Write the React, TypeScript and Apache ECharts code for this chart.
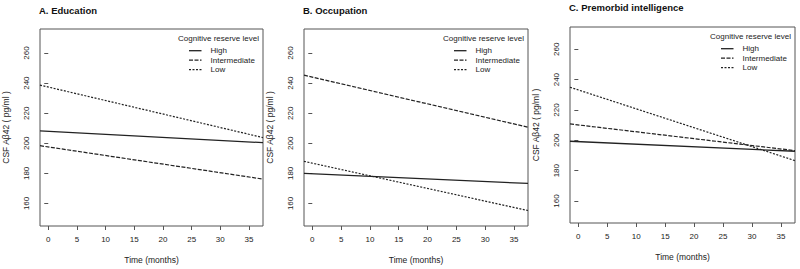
import React, { useEffect, useRef } from "react";
import * as echarts from "echarts";

// Time (months) at the left and right edges of each plot box (lines span the whole box)
const timeEdges = [-1.44, 37.44];
const xTickValues = [0, 5, 10, 15, 20, 25, 30, 35];
const yTickValues = [160, 180, 200, 220, 240, 260];

const panelTitles = ["A. Education", "B. Occupation", "C. Premorbid intelligence"];
const levelNames = ["High", "Intermediate", "Low"];
const legendTitle = "Cognitive reserve level";
const xAxisName = "Time (months)";
const yAxisName = "CSF Aβ42 ( pg/ml )";

// CSF Aβ42 values at the left and right edges
const educationHigh = [208.2, 200.4];
const educationIntermediate = [198.4, 176.2];
const educationLow = [238.7, 203.8];

const occupationHigh = [180.0, 173.3];
const occupationIntermediate = [245.3, 210.7];
const occupationLow = [188.0, 155.3];

const intelligenceHigh = [199.4, 192.8];
const intelligenceIntermediate = [210.8, 193.2];
const intelligenceLow = [235.0, 186.6];

const panelSeries = [
  [educationHigh, educationIntermediate, educationLow],
  [occupationHigh, occupationIntermediate, occupationLow],
  [intelligenceHigh, intelligenceIntermediate, intelligenceLow],
];

const yRanges = [
  [145, 276],
  [145, 276],
  [145.5, 274.7],
];

const grids = [
  { left: 40, top: 29, width: 223, height: 197 },
  { left: 304, top: 29, width: 224, height: 197 },
  { left: 570, top: 27, width: 225, height: 196 },
];
const titleTops = [5, 5, 2.5];

const FONT = "'Liberation Sans', Arial, Helvetica, sans-serif";
const INK = "#222";
const BOX = "#555";
const lineTypes: any[] = ["solid", [4, 1.5], [2, 1.5]];
const lineWidths = [1.3, 1.2, 1.2];

export default function App() {
  const ref = useRef<HTMLDivElement>(null);
  useEffect(() => {
    if (!ref.current) return;
    const chart = echarts.init(ref.current, undefined, { renderer: "svg" });

    const xAxis = grids.map((_, i) => ({
      type: "value",
      gridIndex: i,
      min: timeEdges[0],
      max: timeEdges[1],
      splitLine: { show: false },
      axisLine: { show: false },
      axisTick: {
        show: true,
        customValues: xTickValues,
        length: 4,
        lineStyle: { color: BOX, width: 1 },
      },
      axisLabel: {
        customValues: xTickValues,
        fontSize: 8,
        fontFamily: FONT,
        color: INK,
        margin: 9,
      },
      name: xAxisName,
      nameLocation: "middle",
      nameGap: 29,
      nameTextStyle: { fontSize: 8.5, fontFamily: FONT, color: INK },
    }));

    const yAxis = grids.map((_, i) => ({
      type: "value",
      gridIndex: i,
      min: yRanges[i][0],
      max: yRanges[i][1],
      splitLine: { show: false },
      axisLine: { show: false },
      axisTick: {
        show: true,
        customValues: yTickValues,
        length: 4,
        lineStyle: { color: BOX, width: 1 },
      },
      axisLabel: {
        customValues: yTickValues,
        fontSize: 8,
        fontFamily: FONT,
        color: INK,
        rotate: 90,
        margin: 10,
      },
      name: yAxisName,
      nameLocation: "middle",
      nameRotate: 90,
      nameGap: 30,
      nameTextStyle: { fontSize: 8.5, fontFamily: FONT, color: INK },
    }));

    const series: any[] = [];
    panelSeries.forEach((group, p) => {
      group.forEach((vals, k) => {
        series.push({
          type: "line",
          name: levelNames[k],
          xAxisIndex: p,
          yAxisIndex: p,
          showSymbol: false,
          symbol: "none",
          data: timeEdges.map((t, j) => [t, vals[j]]),
          lineStyle: { color: INK, width: lineWidths[k], type: lineTypes[k] },
          silent: true,
        });
      });
    });

    const graphic: any[] = [];
    grids.forEach((g, p) => {
      const right = g.left + g.width;
      graphic.push({
        type: "text",
        x: right - 4,
        y: g.top + 9.7,
        style: {
          text: legendTitle,
          fontSize: 8,
          fontFamily: FONT,
          fill: INK,
          align: "right",
          verticalAlign: "middle",
        },
      });
      levelNames.forEach((name, k) => {
        const yy = g.top + 21.7 + k * 9.5;
        graphic.push({
          type: "line",
          shape: { x1: right - 74, y1: yy, x2: right - 61.5, y2: yy },
          style: { stroke: INK, lineWidth: lineWidths[k], lineDash: lineTypes[k] === "solid" ? null : lineTypes[k] },
        });
        graphic.push({
          type: "text",
          x: right - 52.5,
          y: yy,
          style: {
            text: name,
            fontSize: 8,
            fontFamily: FONT,
            fill: INK,
            align: "left",
            verticalAlign: "middle",
          },
        });
      });
    });

    chart.setOption({
      animation: false,
      backgroundColor: "#fff",
      title: panelTitles.map((t, i) => ({
        text: t,
        left: grids[i].left - 1,
        top: titleTops[i],
        padding: 0,
        textStyle: { fontSize: 9.5, fontWeight: "bold", fontFamily: FONT, color: "#111" },
      })),
      grid: grids.map((g) => ({
        left: g.left,
        top: g.top,
        width: g.width,
        height: g.height,
        show: true,
        borderColor: BOX,
        borderWidth: 1,
        backgroundColor: "transparent",
      })),
      xAxis,
      yAxis,
      series,
      graphic,
    });
    return () => chart.dispose();
  }, []);
  return (
    <div
      ref={ref}
      style={{ position: "fixed", left: 0, top: 0, width: 800, height: 269, background: "#fff" }}
    />
  );
}
